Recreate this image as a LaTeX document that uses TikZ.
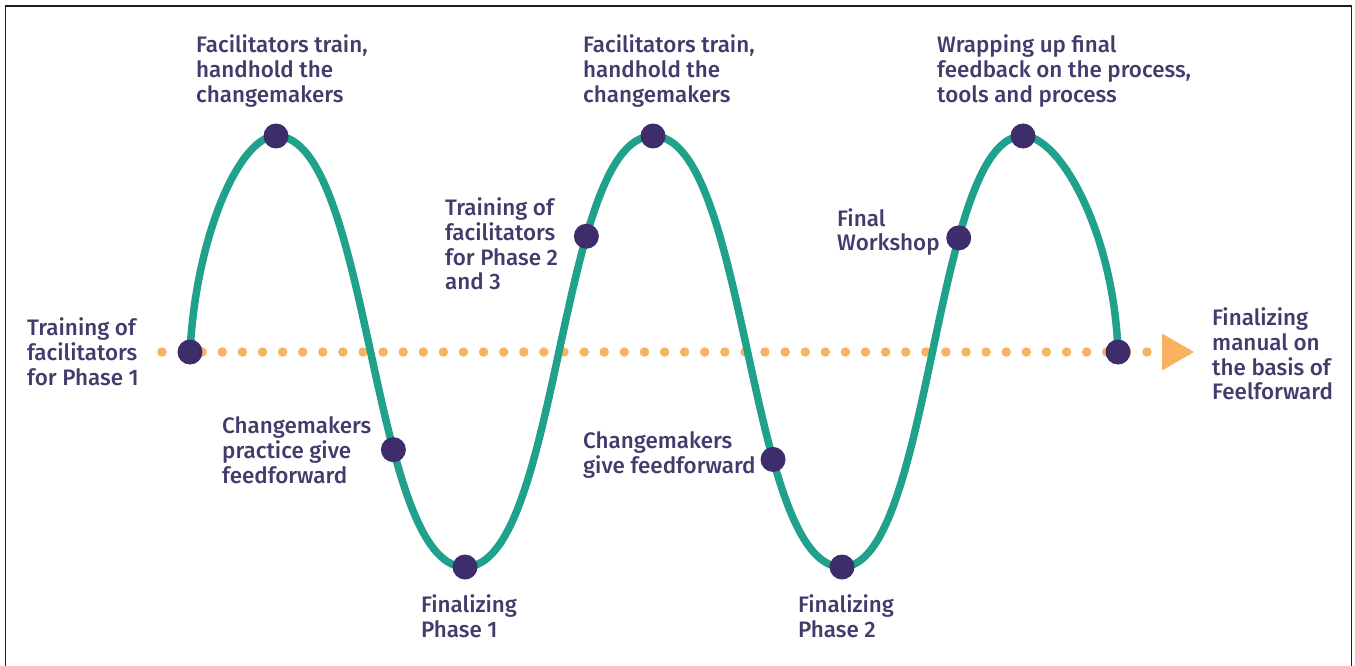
\documentclass[tikz,border=0pt]{standalone}
\usepackage{fontspec}
\setmainfont{Fira Sans}[UprightFont={* Medium}]
\usepackage{xcolor}
\definecolor{wavegreen}{HTML}{1FA18B}
\definecolor{dotpurple}{HTML}{3D2E6B}
\definecolor{textpurple}{HTML}{413C6C}
\definecolor{lineorange}{HTML}{F8B360}
\definecolor{framegray}{HTML}{1E1E1E}
\usetikzlibrary{positioning,backgrounds}

\begin{document}
\begin{tikzpicture}[
        x=1bp, y=-1bp,
        dot/.style={circle, fill=dotpurple, minimum size=25bp, inner sep=0pt},
        note/.style={align=left, inner sep=0pt, anchor=west, text=textpurple, font=\fontsize{22.4bp}{24.8bp}\selectfont},
        wave/.style={draw=wavegreen, line width=7.5bp},
        dotline/.style={draw=lineorange, line width=9.5bp, line cap=round, dash pattern=on 0pt off 20.1bp},
        frame/.style={draw=framegray, line width=1.5bp}
    ]
        \useasboundingbox (0,0) rectangle (1355,666);
        \draw[frame] (5.5,666) -- (5.5,6) -- (1351.5,6) -- (1351.5,666);

        % stations on the wave
        \node[dot] (start) at (190,352) {};
        \node[dot] (top1) at (276,136) {};
        \node[dot] (low1) at (465,567) {};
        \node[dot] (top2) at (653,136) {};
        \node[dot] (low2) at (842,567) {};
        \node[dot] (top3) at (1023,136) {};
        \node[dot] (finish) at (1118,352) {};

        \begin{scope}[on background layer]
            \coordinate (axisstart) at (162,352);
            \coordinate (axisend) at (1148,352);
            \coordinate (tip) at (1194,352);
            \draw[dotline] (axisstart) -- (axisend);
            \fill[lineorange] (tip) -- ++(-32,-18.5) -- ++(0,37) -- cycle;

            \draw[wave] (start.center) .. controls +(6,-117) and +(-36,0) .. (top1.center)
                .. controls +(95,0) and +(-95,0) .. (low1.center) node[dot, pos=.657] (mid1) {}
                .. controls +(95,0) and +(-95,0) .. (top2.center) node[dot, pos=.687] (mid2) {}
                .. controls +(95,0) and +(-95,0) .. (low2.center) node[dot, pos=.674] (mid3) {}
                .. controls +(90,0) and +(-90,0) .. (top3.center) node[dot, pos=.684] (mid4) {}
                .. controls +(38,0) and +(-4,-117) .. (finish.center);
        \end{scope}

        \node[note] (starttext) at (27,352) {Training of\\facilitators\\for Phase 1};
        \node[note] (top1text) at (196,71) {Facilitators train,\\handhold the\\changemakers};
        \node[note] (mid1text) at (222,450) {Changemakers\\practice give\\feedforward};
        \node[note, anchor=north, below=15bp of low1, xshift=4bp] (low1text) {Finalizing\\Phase 1};
        \node[note] (mid2text) at (445,244) {Training of\\facilitators\\for Phase 2\\and 3};
        \node[note] (top2text) at (583,71) {Facilitators train,\\handhold the\\changemakers};
        \node[note] (mid3text) at (583,455) {Changemakers\\give feedforward};
        \node[note, anchor=north, below=15bp of low2, xshift=4bp] (low2text) {Finalizing\\Phase 2};
        \node[note] (mid4text) at (837,232) {Final\\Workshop};
        \node[note] (top3text) at (937,71) {Wrapping up final\\feedback on the process,\\tools and process};
        \node[note] (endtext) at (1212,354) {Finalizing\\manual on\\the basis of\\Feelforward};
    \end{tikzpicture}
\end{document}
